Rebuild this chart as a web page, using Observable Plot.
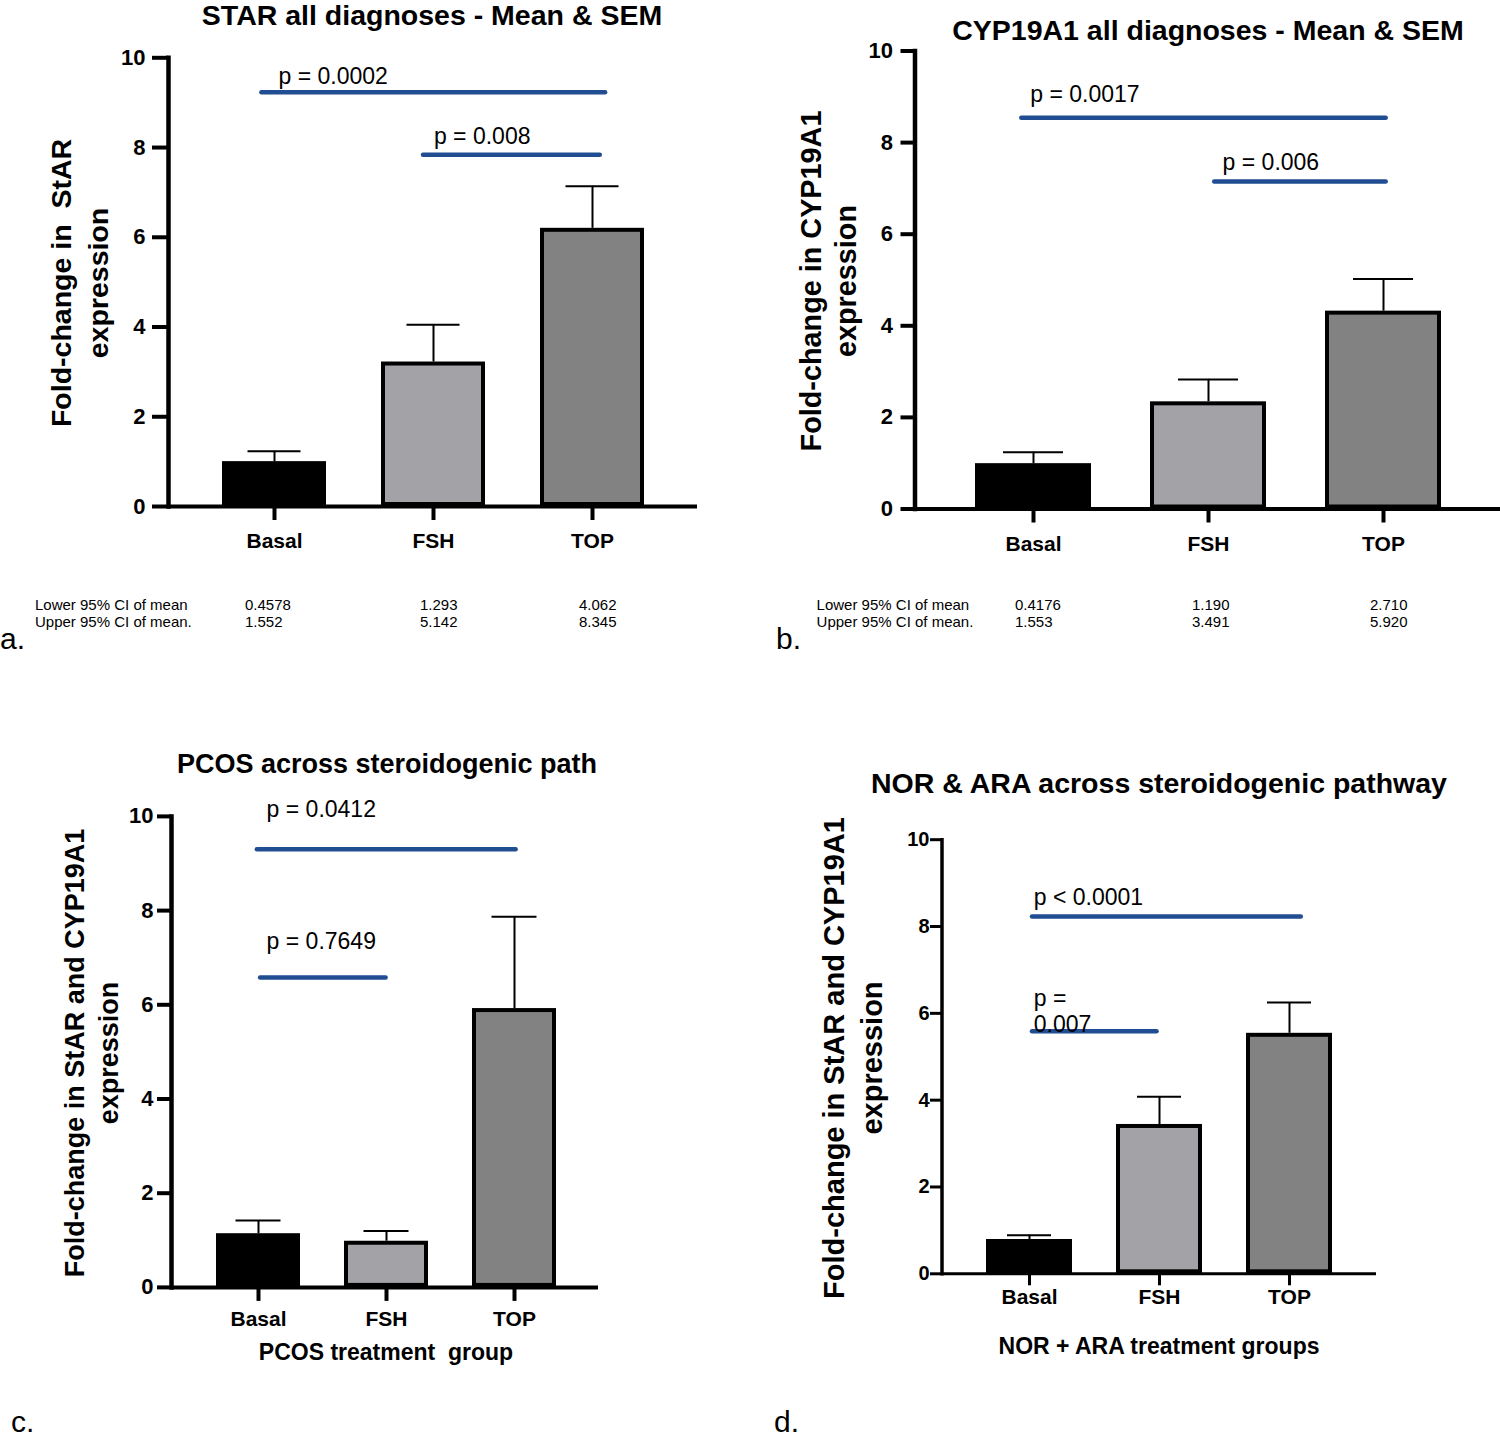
<!DOCTYPE html>
<html><head><meta charset="utf-8">
<script src="https://cdn.jsdelivr.net/npm/d3@7"></script>
<script src="https://cdn.jsdelivr.net/npm/@observablehq/plot@0.6"></script>
<style>
body{margin:0;background:#fff;}
#page{position:relative;width:1500px;height:1441px;overflow:hidden;font-family:"Liberation Sans",Arial,Helvetica,sans-serif;color:#000;background:#fff;}
.t{position:absolute;white-space:pre;line-height:1.15;}
.panel{position:absolute;}
.panel svg{overflow:visible;}
</style></head><body><div id="page"></div>
<script>
// ---------- data ----------
const groups = ["Basal", "FSH", "TOP"];
const yTicks = [0, 2, 4, 6, 8, 10];

const starMean = [1.0, 3.22, 6.2];
const starSem = [0.23, 0.83, 0.94];
const starSig = [
  {from: "Basal", to: "TOP", y: 9.23, label: "p = 0.0002"},
  {from: "FSH", to: "TOP", y: 7.84, label: "p = 0.008"}
];
const starCILower = ["0.4578", "1.293", "4.062"];
const starCIUpper = ["1.552", "5.142", "8.345"];

const cypMean = [0.99, 2.34, 4.32];
const cypSem = [0.25, 0.49, 0.70];
const cypSig = [
  {from: "Basal", to: "TOP", y: 8.54, label: "p = 0.0017"},
  {from: "FSH", to: "TOP", y: 7.15, label: "p = 0.006"}
];
const cypCILower = ["0.4176", "1.190", "2.710"];
const cypCIUpper = ["1.553", "3.491", "5.920"];

const pcosMean = [1.14, 0.98, 5.92];
const pcosSem = [0.28, 0.22, 1.95];
const pcosSig = [
  {from: "Basal", to: "TOP", y: 9.30, label: "p = 0.0412"},
  {from: "Basal", to: "FSH", y: 6.58, label: "p = 0.7649"}
];

const norMean = [0.79, 3.44, 5.54];
const norSem = [0.10, 0.64, 0.71];
const norSig = [
  {from: "Basal", to: "TOP", y: 8.23, label: "p < 0.0001"},
  {from: "Basal", to: "FSH", y: 5.59, label: "p =\n0.007"}
];

const ciRowLabels = ["Lower 95% CI of mean", "Upper 95% CI of mean."];

// ---------- style / layout ----------
const FONT = '"Liberation Sans", Arial, Helvetica, sans-serif';
const BLUE = "#214e92";
const fills = ["#000000", "#a3a3a7", "#828282"];
const page = document.getElementById("page");

function addText(txt, x, y, css, anchor = "center") {
  const d = document.createElement("div");
  d.className = "t";
  d.textContent = txt;
  Object.assign(d.style, css || {});
  d.style.left = x + "px";
  d.style.top = y + "px";
  let tf = anchor === "center" ? "translate(-50%,-50%)" : anchor === "left" ? "translate(0,-50%)" : "translate(-100%,-50%)";
  if (css && css.rot) tf += " rotate(-90deg)";
  d.style.transform = tf;
  page.appendChild(d);
  return d;
}

function panel(cfg, means, sems, sig) {
  const data = groups.map((g, i) => ({group: g, mean: means[i], upper: means[i] + sems[i]}));
  const W = cfg.w, H = cfg.h;
  const ml = cfg.axisX - cfg.ox, mt = cfg.y10 - cfg.oy, mb = cfg.oy + H - cfg.y0, mr = cfg.ox + W - cfg.right;
  const pi = 1 - cfg.bw / cfg.step;
  const r0 = cfg.c0 - cfg.ox - cfg.step / 2;
  const svg = Plot.plot({
    width: W, height: H,
    marginLeft: ml, marginTop: mt, marginBottom: mb, marginRight: mr,
    style: {fontFamily: FONT, background: "transparent", color: "#000"},
    x: {type: "band", domain: groups, range: [r0, r0 + groups.length * cfg.step], paddingInner: pi, paddingOuter: pi / 2, align: 0.5, axis: null},
    y: {domain: [0, 10], axis: null},
    color: {domain: groups, range: fills},
    marks: [
      Plot.ruleX(data, {x: "group", y1: "mean", y2: "upper", stroke: "#000", strokeWidth: 2}),
      Plot.tickY(data, {x: "group", y: "upper", stroke: "#000", strokeWidth: 2, insetLeft: cfg.capInset, insetRight: cfg.capInset}),
      Plot.barY(data, {x: "group", y: "mean", fill: "group", stroke: "#000", strokeWidth: 4, inset: 2}),
      Plot.ruleY([0], {stroke: "#000", strokeWidth: cfg.axisW}),
      Plot.frame({anchor: "left", stroke: "#000", strokeWidth: cfg.axisW + 0.5}),
      Plot.axisY({ticks: yTicks, tickSize: cfg.tick, tickPadding: cfg.tickPad, strokeWidth: cfg.axisW, fontSize: cfg.tickFont, fontWeight: "bold", label: null, tickFormat: d => String(d)}),
      Plot.axisX({tickSize: cfg.xTick, tickPadding: cfg.xPad, strokeWidth: cfg.axisW, fontSize: 21, fontWeight: "bold", label: null}),
      ...sig.map((s, i) => Plot.ruleY([s], {x1: "from", x2: "to", y: "y", stroke: BLUE, strokeWidth: 4.5, strokeLinecap: "round",
        insetLeft: cfg.sigStyle[i].il, insetRight: cfg.sigStyle[i].ir})),
      ...sig.map((s, i) => Plot.text([s], {x: "from", y: "y", text: "label", textAnchor: "start", lineAnchor: "middle",
        dx: cfg.sigStyle[i].dx, dy: cfg.sigStyle[i].dy, fontSize: 23, fill: "#000", lineHeight: 1.1}))
    ]
  });
  const wrap = document.createElement("div");
  wrap.className = "panel";
  wrap.style.left = cfg.ox + "px";
  wrap.style.top = cfg.oy + "px";
  wrap.appendChild(svg);
  page.appendChild(wrap);
}

const cfgA = {ox: 0, oy: 0, w: 750, h: 600, axisX: 168, y10: 57.3, y0: 506, right: 697, c0: 273.5, step: 159, bw: 104,
  tick: 16, tickPad: 7, xTick: 14, xPad: 13, axisW: 4, capInset: 25.5, tickFont: 22,
  sigStyle: [{il: 39.4, ir: 38.9, dx: 4, dy: -16.6}, {il: 42, ir: 44.2, dx: 0.4, dy: -19.3}]};
const cfgB = {ox: 760, oy: 0, w: 740, h: 600, axisX: 914.5, y10: 50.5, y0: 508.5, right: 1500, c0: 1032.3, step: 175.35, bw: 116,
  tick: 14, tickPad: 8, xTick: 14, xPad: 13, axisW: 4, capInset: 28, tickFont: 22,
  sigStyle: [{il: 46.3, ir: 55.3, dx: -3.3, dy: -24}, {il: 64.2, ir: 55.3, dx: 14.1, dy: -20}]};
const cfgC = {ox: 0, oy: 740, w: 700, h: 640, axisX: 171, y10: 815.9, y0: 1286.9, right: 598, c0: 257.6, step: 128.35, bw: 84,
  tick: 14, tickPad: 4, xTick: 14, xPad: 10, axisW: 4, capInset: 19.5, tickFont: 22,
  sigStyle: [{il: 40.9, ir: 40.4, dx: 8.1, dy: -40.7}, {il: 44.1, ir: 42.4, dx: 8.1, dy: -37}]};
const cfgD = {ox: 760, oy: 760, w: 740, h: 620, axisX: 941.5, y10: 839.2, y0: 1273.3, right: 1376, c0: 1029, step: 130.25, bw: 86,
  tick: 11.5, tickPad: 1, xTick: 12, xPad: 3, axisW: 3, capInset: 21, tickFont: 20,
  sigStyle: [{il: 46, ir: 31.2, dx: 4.3, dy: -19.3}, {il: 46, ir: 45.5, dx: 4.3, dy: -20.2}]};

panel(cfgA, starMean, starSem, starSig);
panel(cfgB, cypMean, cypSem, cypSig);
panel(cfgC, pcosMean, pcosSem, pcosSig);
panel(cfgD, norMean, norSem, norSig);

// titles
const bold = (size) => ({fontWeight: "bold", fontSize: size + "px"});
addText("STAR all diagnoses - Mean & SEM", 432, 15, bold(28.5));
addText("CYP19A1 all diagnoses - Mean & SEM", 1208, 29.5, bold(28.5));
addText("PCOS across steroidogenic path", 387, 764.5, bold(27));
addText("NOR & ARA across steroidogenic pathway", 1159, 782.5, bold(28.5));

// y-axis labels (two lines, rotated)
const ylab = (size, lh) => ({fontWeight: "bold", fontSize: size + "px", lineHeight: lh + "px", textAlign: "center", rot: true});
addText("Fold-change in  StAR\nexpression", 79.5, 282.6, ylab(28.5, 37));
addText("Fold-change in CYP19A1\nexpression", 827.8, 281, ylab(28.8, 34.5));
addText("Fold-change in StAR and CYP19A1\nexpression", 92.2, 1052.5, ylab(27, 34.4));
addText("Fold-change in StAR and CYP19A1\nexpression", 853.5, 1058, ylab(29, 37.7));

// x-axis titles
addText("PCOS treatment  group", 386, 1351.6, bold(23));
addText("NOR + ARA treatment groups", 1159, 1346.3, bold(23));

// CI tables
const ci = {fontSize: "15px"};
function ciTable(lx, cols, lower, upper) {
  addText(ciRowLabels[0], lx, 604.7, ci, "left");
  addText(ciRowLabels[1], lx, 621.6, ci, "left");
  cols.forEach((cx, i) => {
    addText(lower[i], cx, 604.7, ci, "left");
    addText(upper[i], cx, 621.6, ci, "left");
  });
}
ciTable(35, [245, 420, 579], starCILower, starCIUpper);
ciTable(816.6, [1015, 1192, 1370], cypCILower, cypCIUpper);

// panel letters
const let_ = {fontSize: "30px"};
addText("a.", 0, 639, let_, "left");
addText("b.", 776, 639, let_, "left");
addText("c.", 11, 1422, let_, "left");
addText("d.", 774, 1422, let_, "left");
</script>
</body></html>
